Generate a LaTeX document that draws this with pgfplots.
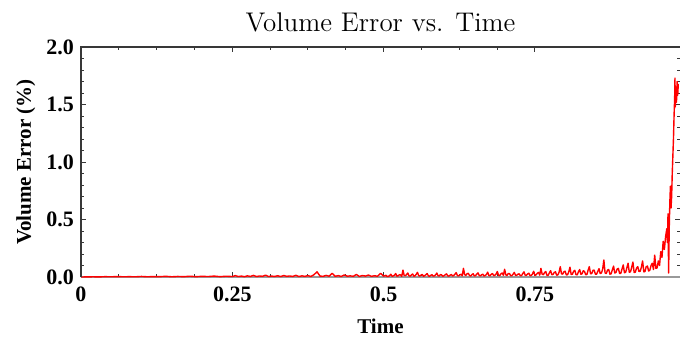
\documentclass[border=0pt]{standalone}
\usepackage{fontspec}
\newfontfamily\tms{Liberation Serif}
\usepackage{pgfplots}
\pgfplotsset{compat=1.18}
\definecolor{framec}{gray}{0.22}
\definecolor{zline}{gray}{0.6}
\begin{document}
\begin{tikzpicture}
\useasboundingbox (-40.5pt,-31pt) rectangle (299.5pt,138.5pt);
\begin{axis}[
 at={(0,0)}, anchor=south west,
 scale only axis, width=299.5pt, height=115pt,
 xmin=0, xmax=0.9898, ymin=0, ymax=2,
 xtick={0,0.25,0.5,0.75}, xticklabels={0,0.25,0.5,0.75},
 minor x tick num=3,
 ytick={0,0.5,1,1.5,2}, minor y tick num=4,
 yticklabel style={/pgf/number format/.cd, fixed, fixed zerofill, precision=1},
 /pgf/number format/assume math mode=true,
 ticklabel style={font=\tms\bfseries\fontsize{11}{11}\selectfont},
 xticklabel style={yshift=-1.5pt},
 tick align=inside, tick pos=both,
 major tick length=2.5pt, minor tick length=1.5pt,
 every tick/.style={framec, line width=0.5pt},
 axis line style={draw=none},
 clip=false,
 title={Volume Error vs. Time},
 title style={font=\fontsize{13.5}{13.5}\selectfont, at={(axis description cs:0.5,1)}, anchor=base, yshift=2pt},
 xlabel={Time}, ylabel={Volume Error (\%)},
 label style={font=\tms\bfseries\fontsize{10.5}{10.5}\selectfont},
 xlabel style={at={(axis description cs:0.5,0)}, anchor=base, yshift=-28pt},
 ylabel style={at={([xshift=-25pt]axis description cs:0,0.5)}, anchor=base},
]
\draw[zline, line width=0.6pt] (rel axis cs:0,0) -- (rel axis cs:1,0);
\addplot[red, line width=0.7pt, line join=round] coordinates {
(0,0) (0.01,0.001) (0.02,0.002) (0.03,0.001) (0.04,0.003) (0.05,0.002) (0.06,0.004) (0.07,0.002) (0.08,0.003) (0.09,0.002)
(0.10,0.005) (0.11,0.002) (0.12,0.004) (0.13,0.003) (0.14,0.006) (0.15,0.002) (0.16,0.005) (0.17,0.003) (0.18,0.007) (0.19,0.003)
(0.20,0.006) (0.21,0.004) (0.22,0.008) (0.23,0.003) (0.24,0.007) (0.25,0.004)
(0.255,0.012) (0.26,0.004) (0.265,0.008) (0.27,0.003) (0.275,0.010) (0.28,0.005) (0.285,0.014) (0.29,0.004) (0.295,0.009) (0.30,0.006)
(0.305,0.016) (0.31,0.004) (0.315,0.008) (0.32,0.005) (0.325,0.011) (0.33,0.004) (0.335,0.013) (0.34,0.006) (0.345,0.009) (0.35,0.005)
(0.355,0.015) (0.36,0.004) (0.365,0.010) (0.37,0.006) (0.375,0.012) (0.38,0.005) (0.385,0.020) (0.39,0.045) (0.395,0.008) (0.40,0.006)
(0.405,0.014) (0.41,0.007) (0.415,0.032) (0.42,0.006) (0.425,0.012) (0.43,0.005) (0.435,0.018) (0.44,0.007) (0.445,0.010) (0.45,0.006)
(0.455,0.022) (0.46,0.005) (0.465,0.013) (0.47,0.008) (0.475,0.017) (0.48,0.006) (0.485,0.011) (0.49,0.007) (0.495,0.032) (0.50,0.008)
(0.502,0.010) (0.504,0.015) (0.506,0.004) (0.508,0.006) (0.510,0.012) (0.512,0.024) (0.514,0.007) (0.516,0.009) (0.518,0.016) (0.520,0.030)
(0.522,0.008) (0.524,0.010) (0.526,0.020) (0.528,0.018) (0.530,0.006) (0.532,0.060) (0.534,0.014) (0.536,0.012) (0.538,0.022) (0.540,0.035)
(0.542,0.010) (0.544,0.008) (0.546,0.018) (0.548,0.026) (0.550,0.007) (0.552,0.011) (0.554,0.024) (0.556,0.040) (0.558,0.012) (0.560,0.009)
(0.562,0.017) (0.564,0.022) (0.566,0.006) (0.568,0.012) (0.570,0.020) (0.572,0.030) (0.574,0.010) (0.576,0.007) (0.578,0.015) (0.580,0.020)
(0.582,0.008) (0.584,0.010) (0.586,0.019) (0.588,0.034) (0.590,0.011) (0.592,0.009) (0.594,0.021) (0.596,0.018) (0.598,0.007) (0.600,0.012)
(0.602,0.020) (0.604,0.027) (0.606,0.010) (0.608,0.008) (0.610,0.016) (0.612,0.022) (0.614,0.009) (0.616,0.013) (0.618,0.025) (0.620,0.038)
(0.622,0.012) (0.624,0.010) (0.626,0.018) (0.628,0.024) (0.630,0.011) (0.632,0.075) (0.634,0.020) (0.636,0.015) (0.638,0.028) (0.640,0.032)
(0.642,0.012) (0.644,0.009) (0.646,0.021) (0.648,0.028) (0.650,0.010) (0.652,0.012) (0.654,0.026) (0.656,0.036) (0.658,0.014) (0.660,0.010)
(0.662,0.019) (0.664,0.025) (0.666,0.008) (0.668,0.014) (0.670,0.022) (0.672,0.042) (0.674,0.013) (0.676,0.011) (0.678,0.024) (0.680,0.030)
(0.682,0.012) (0.684,0.015) (0.686,0.026) (0.688,0.048) (0.690,0.014) (0.692,0.012) (0.694,0.028) (0.696,0.035) (0.698,0.015) (0.700,0.067)
(0.702,0.018) (0.704,0.014) (0.706,0.030) (0.708,0.030) (0.710,0.012) (0.712,0.011) (0.714,0.025) (0.716,0.040) (0.718,0.015) (0.720,0.016)
(0.722,0.024) (0.724,0.028) (0.726,0.011) (0.728,0.012) (0.730,0.030) (0.732,0.045) (0.734,0.016) (0.736,0.015) (0.738,0.027) (0.740,0.033)
(0.742,0.012) (0.744,0.013) (0.746,0.026) (0.748,0.050) (0.750,0.015)
(0.752,0.018) (0.754,0.032) (0.756,0.040) (0.758,0.016) (0.760,0.075) (0.762,0.025) (0.764,0.020) (0.766,0.038) (0.768,0.048) (0.770,0.014)
(0.772,0.015) (0.774,0.036) (0.776,0.055) (0.778,0.020) (0.780,0.022) (0.782,0.040) (0.784,0.045) (0.786,0.016) (0.788,0.018) (0.790,0.042)
(0.792,0.090) (0.794,0.028) (0.796,0.025) (0.798,0.046) (0.800,0.050) (0.802,0.018) (0.804,0.020) (0.806,0.044) (0.808,0.085) (0.810,0.022)
(0.812,0.024) (0.814,0.050) (0.816,0.058) (0.818,0.020) (0.820,0.019) (0.822,0.045) (0.824,0.065) (0.826,0.024) (0.828,0.028) (0.830,0.055)
(0.832,0.048) (0.834,0.020) (0.836,0.022) (0.838,0.060) (0.840,0.090) (0.842,0.028) (0.844,0.030) (0.846,0.058) (0.848,0.060) (0.850,0.024)
(0.852,0.025) (0.854,0.050) (0.856,0.072) (0.858,0.030) (0.860,0.035) (0.862,0.068) (0.864,0.148) (0.866,0.035) (0.868,0.030) (0.870,0.060)
(0.872,0.065) (0.874,0.025) (0.876,0.028) (0.878,0.062) (0.880,0.095) (0.882,0.035) (0.884,0.040) (0.886,0.070) (0.888,0.075) (0.890,0.030)
(0.892,0.032) (0.894,0.070) (0.896,0.105) (0.898,0.038) (0.900,0.040) (0.902,0.080) (0.904,0.120) (0.906,0.042) (0.908,0.045) (0.910,0.085)
(0.912,0.130) (0.914,0.040) (0.916,0.042) (0.918,0.078) (0.920,0.090) (0.922,0.048) (0.924,0.050) (0.926,0.085) (0.928,0.140) (0.930,0.045)
(0.932,0.048) (0.934,0.090) (0.936,0.095) (0.938,0.052) (0.940,0.060) (0.942,0.100) (0.944,0.120) (0.946,0.065) (0.948,0.190) (0.950,0.075)
(0.952,0.080)
(0.954,0.140) (0.956,0.100) (0.958,0.220) (0.960,0.170) (0.962,0.310) (0.964,0.240) (0.966,0.350) (0.968,0.420) (0.969,0.300) (0.970,0.550)
(0.971,0.035) (0.972,0.420) (0.973,0.650) (0.974,0.790) (0.975,0.600) (0.976,0.700) (0.977,0.900) (0.978,1.050) (0.979,1.200) (0.980,1.400)
(0.981,1.560) (0.9815,1.730) (0.982,1.480) (0.983,1.600) (0.984,1.520) (0.985,1.700) (0.986,1.580) (0.987,1.680)
};
\draw[framec, line width=0.6pt] (rel axis cs:0,0) -- (rel axis cs:0,1) -- (rel axis cs:1,1);
\end{axis}
\end{tikzpicture}
\end{document}
